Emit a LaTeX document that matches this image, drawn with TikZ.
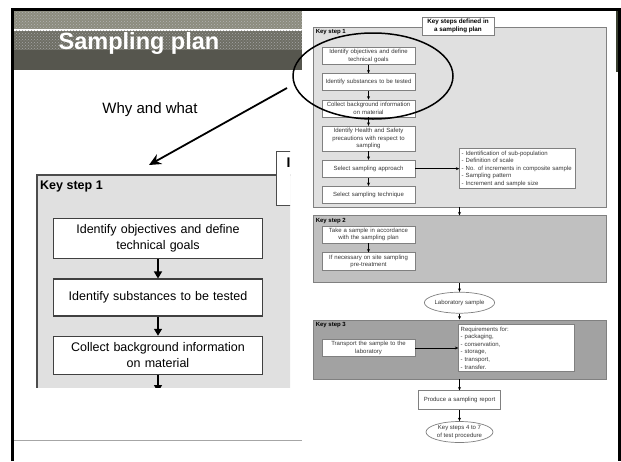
\documentclass[tikz,border=0pt]{standalone}
\usepackage{fontspec}
\setmainfont{Liberation Sans}
\usetikzlibrary{shapes.geometric, arrows.meta, positioning, patterns}

\definecolor{panelgray}{RGB}{224,224,224}
\definecolor{stepgray}{RGB}{192,192,192}
\definecolor{deepgray}{RGB}{162,162,162}
\definecolor{linegray}{RGB}{128,128,128}
\definecolor{inkgray}{RGB}{55,55,55}
\definecolor{bandlight}{RGB}{140,140,126}
\definecolor{bandmid}{RGB}{110,110,100}
\definecolor{banddark}{RGB}{86,86,78}
\definecolor{stripdark}{RGB}{58,64,48}

\newcommand{\tinyfont}{\fontsize{6}{7.6}\selectfont}
\newcommand{\panelfont}{\fontsize{12.5}{16}\selectfont}

\tikzstyle{stepframe} = [rectangle, draw=linegray, line width=0.9pt, minimum width=293pt, inner sep=0pt]
\tikzstyle{stepbox} = [rectangle, draw=linegray, line width=0.7pt, fill=white, minimum width=93pt, minimum height=17pt, text width=89pt, align=center, inner sep=2pt, font=\tinyfont, text=inkgray]
\tikzstyle{listbox} = [rectangle, draw=linegray, line width=0.7pt, fill=white, minimum width=116pt, text width=112pt, align=left, inner sep=2pt, font=\tinyfont, text=inkgray]
\tikzstyle{oval} = [ellipse, draw=linegray, line width=0.7pt, fill=white, inner sep=0pt, minimum width=67pt, minimum height=21pt, align=center, font=\tinyfont, text=inkgray]
\tikzstyle{steplabel} = [anchor=north west, inner sep=0pt, text=black, font=\bfseries\tinyfont]
\tikzstyle{arrow} = [-{Stealth[length=3.5pt,width=3pt]}, line width=0.6pt]
\tikzstyle{bigbox} = [rectangle, draw=black!75, line width=1.3pt, fill=white, minimum width=204pt, minimum height=37pt, text width=196pt, align=center, inner sep=6.5pt, font=\panelfont]
\tikzstyle{bigarrow} = [-{Triangle[length=7pt,width=8pt]}, line width=1.3pt]
\tikzstyle{zoomarrow} = [-{Stealth[length=12pt,width=11pt]}, line width=1.8pt]

\begin{document}
\begin{tikzpicture}[x=1pt, y=-1pt, node distance=8.5pt]
\useasboundingbox (0,0) rectangle (621,461);

% Slide banner
\fill[bandlight] (14,11) rectangle (302,28.5);
\fill[pattern=crosshatch dots, pattern color=black!30] (14,11) rectangle (302,28.5);
\fill[bandmid] (14,30.5) rectangle (302,50);
\fill[pattern=crosshatch dots, pattern color=black!35] (14,30.5) rectangle (302,50);
\fill[banddark] (14,50) rectangle (302,70);
\draw[white, line width=1.5pt] (14,29.5) -- (302,29.5);
\node (title) [anchor=base, text=white, font=\bfseries\fontsize{23.5}{28}\selectfont] at (139,49) {Sampling plan};
\node (why) [anchor=base, font=\fontsize{15}{18}\selectfont] at (150,113) {Why and what};

% Magnified key step 1
\begin{scope}
\clip (30,140) rectangle (290,387);
\fill[panelgray] (37,175) rectangle (300,400);
\draw[black!70, line width=1.3pt] (37,400) -- (37,175) -- (300,175);
\node (lstep) [anchor=west, inner sep=0pt, font=\bfseries\panelfont] at (40,186) {Key step 1};
\node (lb1) [bigbox] at (158,238.5) {Identify objectives and define\\technical goals};
\node (lb2) [bigbox, below=19pt of lb1] {Identify substances to be tested};
\node (lb3) [bigbox, below=19pt of lb2] {Collect background information\\on material};
\coordinate (lcut) at (158,392);
\draw [bigarrow] (lb1) -- (lb2);
\draw [bigarrow] (lb2) -- (lb3);
\draw [bigarrow] (lb3) -- (lcut);
\node (lhead) [rectangle, draw=black!70, line width=1.3pt, fill=white, minimum width=30pt, minimum height=54pt, anchor=north west] at (276,151) {};
\node (lheadtext) [inner sep=0pt, font=\bfseries\fontsize{14}{16}\selectfont] at (288.5,163) {I};
\end{scope}

% Flow chart frames
\node (ks1) [stepframe, fill=panelgray, minimum height=180pt] at (459.5,117) {};
\node (ks2) [stepframe, fill=stepgray, minimum height=67pt, below=8pt of ks1] {};
\node (lab) [oval, below=8.5pt of ks2] {Laboratory sample};
\node (ks3) [stepframe, fill=deepgray, minimum height=59pt, below=6pt of lab] {};
\node (report) [stepbox, minimum width=82pt, text width=78pt, minimum height=19pt, below=11pt of ks3] {Produce a sampling report};
\node (next) [oval, below=11pt of report] {Key steps 4 to 7\\of test procedure};
\node (ks1lab) [steplabel] at ([shift={(3pt,-3pt)}]ks1.north west) {Key step 1};
\node (ks2lab) [steplabel] at ([shift={(3pt,-3pt)}]ks2.north west) {Key step 2};
\node (ks3lab) [steplabel] at ([shift={(3pt,-3pt)}]ks3.north west) {Key step 3};
\node (head) [rectangle, draw=linegray, line width=0.7pt, fill=white, minimum width=72pt, minimum height=18pt, inner sep=1pt, align=center, font=\bfseries\fontsize{6.3}{7.5}\selectfont] at (458,26) {Key steps defined in\\a sampling plan};

% Flow chart steps
\node (ra) [stepbox] at (368.5,56) {Identify objectives and define\\technical goals};
\node (rb) [stepbox, below=of ra] {Identify substances to be tested};
\node (rc) [stepbox, below=of rb] {Collect background information\\on material};
\node (rd) [stepbox, below=of rc] {Identify Health and Safety\\precautions with respect to\\sampling};
\node (re) [stepbox, below=of rd] {Select sampling approach};
\node (rf) [stepbox, below=of re] {Select sampling technique};
\node (rlist) [listbox, right=44pt of re] {- Identification of sub-population\\- Definition of scale\\- No. of increments in composite sample\\- Sampling pattern\\- Increment and sample size};
\node (rg) [stepbox] at (368.5,234.5) {Take a sample in accordance\\with the sampling plan};
\node (rh) [stepbox, below=9pt of rg] {If necessary on site sampling\\pre-treatment};
\node (ri) [stepbox] at (368.5,348) {Transport the sample to the\\laboratory};
\node (rreq) [listbox, right=43pt of ri] {Requirements for:\\- packaging,\\- conservation,\\- storage,\\- transport,\\- transfer.};

% Arrows
\draw [arrow] (ra) -- (rb);
\draw [arrow] (rb) -- (rc);
\draw [arrow] (rc) -- (rd);
\draw [arrow] (rd) -- (re);
\draw [arrow] (re) -- (rf);
\draw [arrow] (re) -- (rlist);
\draw [arrow] (ks1) -- (ks2);
\draw [arrow] (rg) -- (rh);
\draw [arrow] (ks2) -- (lab);
\draw [arrow] (lab) -- (ks3);
\draw [arrow] (ri) -- (rreq);
\draw [arrow] (ks3) -- (report);
\draw [arrow] (report) -- (next);

% Highlight and zoom arrow
\node (focus) [ellipse, draw=black, line width=1.5pt, minimum width=160pt, minimum height=86pt, inner sep=0pt] at (373,76) {};
\coordinate (zoomfrom) at (287,88);
\coordinate (zoomto) at (149,165);
\draw [zoomarrow] (zoomfrom) -- (zoomto);

% Slide frame
\draw[gray!70, line width=1pt] (14,440) -- (302,440);
\fill[stripdark] (616,11) rectangle (619,72);
\draw[black, line width=3pt] (12.5,461) -- (12.5,9.5) -- (619.5,9.5) -- (619.5,461);

\end{tikzpicture}
\end{document}
